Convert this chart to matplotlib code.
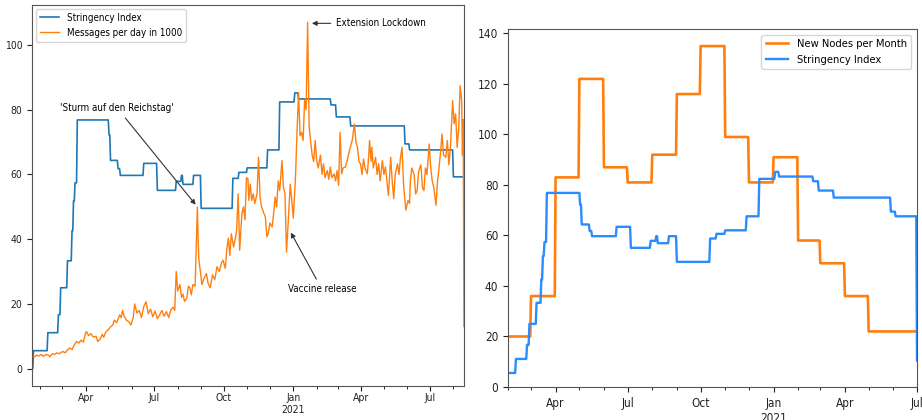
import numpy as np
import pandas as pd
import matplotlib
matplotlib.use('Agg')
import matplotlib.pyplot as plt
import matplotlib.dates as mdates

plt.rcParams['font.stretch'] = 'condensed'

# --- data -----------------------------------------------------------------
start = pd.Timestamp('2020-01-21')

# stringency index: value valid from the given date on
si_dates = ['2020-01-21', '2020-01-23', '2020-02-11', '2020-02-25', '2020-02-28',
            '2020-03-08', '2020-03-14', '2020-03-16', '2020-03-18', '2020-03-21',
            '2020-05-02', '2020-05-04', '2020-05-14', '2020-05-17', '2020-06-17',
            '2020-07-05', '2020-07-30', '2020-08-06', '2020-08-08', '2020-08-22',
            '2020-09-01', '2020-10-13', '2020-10-21', '2020-11-01', '2020-11-28',
            '2020-12-14', '2021-01-03', '2021-01-08', '2021-02-20', '2021-02-27',
            '2021-03-18', '2021-05-29', '2021-06-04', '2021-08-01']
si_vals = [0, 5.56, 11.11, 16.67, 25.0,
           33.33, 42.59, 51.85, 57.41, 76.85,
           72.22, 64.35, 61.8, 59.72, 63.43,
           55.09, 57.87, 59.72, 56.94, 59.72,
           49.54, 58.8, 60.65, 62.04, 67.59,
           82.41, 85.19, 83.33, 81.48, 77.78,
           75.0, 69.44, 67.59, 59.26]
si_right_last = 10.5

# messages per day in 1000 (days after 2020-01-21)
msg_days = [0, 3, 6, 9, 12, 15, 18, 21, 24, 27, 30, 33, 36, 39, 41, 44, 47, 50, 53, 56,
            59, 62, 65, 68, 71, 72, 75, 78, 81, 85, 87, 90, 93, 95, 98, 101, 104, 107, 109, 112,
            114, 116, 118, 120, 122, 125, 128, 131, 134, 136, 139, 142, 145, 148, 151, 154, 157, 160, 163, 166,
            169, 172, 175, 178, 181, 184, 187, 189, 191, 193, 196, 198, 200, 202, 205, 207, 209, 211, 213, 216,
            219, 220, 221, 223, 225, 228, 231, 233, 236, 239, 242, 245, 248, 251, 253, 256, 258, 260, 262, 264,
            267, 269, 271, 273, 275, 278, 280, 282, 284, 286, 287, 289, 291, 293, 295, 298, 300, 302, 304, 307,
            309, 311, 313, 315, 318, 320, 322, 324, 326, 328, 331, 333, 335, 337, 339, 342, 344, 346, 349, 351,
            353, 355, 357, 359, 361, 363, 365, 367, 369, 371, 373, 375, 377, 379, 382, 384, 386, 388, 391, 393,
            395, 397, 400, 402, 404, 406, 408, 410, 412, 415, 417, 419, 421, 424, 427, 429, 431, 433, 435, 437,
            439, 441, 444, 446, 447, 449, 450, 452, 455, 457, 459, 461, 464, 466, 468, 470, 472, 475, 477, 479,
            481, 484, 486, 488, 490, 492, 495, 498, 500, 501, 503, 506, 508, 510, 512, 515, 517, 519, 521, 523,
            526, 528, 530, 532, 535, 537, 539, 541, 543, 545, 548, 550, 552, 554, 557, 559, 561, 563, 565, 567,
            569, 570, 571, 572]
msg_vals = [4.0, 3.6, 4.2, 3.9, 4.4, 3.8, 4.3, 4.3, 3.7, 4.6, 4.4, 4.9, 4.6, 5.1, 5.3, 4.9, 5.8, 6.4, 5.9, 7.3,
            8.4, 7.9, 8.8, 8.2, 11.0, 11.5, 10.2, 10.8, 9.8, 10.0, 8.4, 9.0, 10.6, 9.7, 11.5, 12.0, 12.9, 13.5, 15.0, 14.2,
            15.4, 16.6, 15.8, 18.0, 16.2, 15.0, 14.6, 13.5, 15.8, 20.0, 17.2, 18.0, 15.8, 19.2, 20.7, 17.0, 18.4, 16.0, 17.8, 15.5,
            16.6, 18.0, 16.2, 17.6, 15.8, 18.2, 19.0, 18.0, 30.0, 24.0, 26.0, 22.0, 23.0, 20.8, 21.7, 25.5, 25.0, 22.8, 26.0, 25.5,
            50.0, 40.0, 33.5, 30.0, 26.0, 28.0, 29.4, 26.5, 25.0, 29.0, 27.5, 31.5, 30.0, 32.8, 33.5, 31.0, 37.0, 40.3, 35.0, 41.7,
            37.6, 40.0, 42.8, 54.0, 36.6, 48.0, 50.0, 46.0, 59.0, 58.7, 52.0, 57.0, 52.0, 54.0, 51.0, 54.0, 65.3, 53.0, 50.0, 48.0,
            47.0, 40.7, 42.0, 45.0, 43.8, 48.0, 53.0, 50.0, 58.0, 55.0, 64.3, 56.0, 54.0, 36.0, 44.0, 57.0, 52.0, 46.5, 59.7, 73.5,
            85.3, 72.0, 73.0, 70.5, 83.0, 80.0, 107.0, 75.0, 70.0, 66.0, 64.0, 70.5, 64.3, 62.0, 66.0, 60.0, 63.3, 59.0, 61.2, 58.5,
            62.3, 59.0, 60.2, 58.0, 61.2, 56.6, 73.0, 60.2, 62.0, 62.3, 64.0, 66.0, 68.0, 70.5, 75.6, 70.0, 68.4, 64.0, 63.3, 60.0,
            64.8, 62.0, 60.2, 66.0, 70.5, 64.0, 68.4, 62.0, 65.3, 60.0, 63.3, 58.0, 64.3, 60.0, 62.3, 58.0, 53.5, 65.3, 58.0, 52.5,
            60.0, 63.3, 60.0, 65.3, 68.4, 57.0, 49.0, 52.0, 51.0, 58.0, 62.0, 60.0, 54.0, 55.0, 61.0, 63.0, 56.0, 55.0, 62.0, 60.0,
            69.4, 62.0, 58.0, 56.0, 50.5, 58.0, 62.0, 67.0, 72.5, 66.0, 65.3, 70.5, 63.0, 68.0, 82.8, 75.6, 78.7, 68.4, 74.0, 87.4,
            82.8, 66.0, 77.0, 13.0]

# new nodes per month (Feb 2020 .. Jul 2021)
node_start = '2020-02-01'
node_vals = [20, 36, 83, 122, 87, 81, 92, 116, 135, 99, 81, 91, 58, 49, 36, 22, 22, 22]

# --- series ---------------------------------------------------------------
end_left = start + pd.Timedelta(days=msg_days[-1])
si = pd.Series(si_vals, index=pd.to_datetime(si_dates))
si_left = si.reindex(pd.date_range(start, end_left, freq='D'), method='ffill')
msg = pd.Series(msg_vals, index=start + pd.to_timedelta(msg_days, unit='D'))

nodes = pd.Series(node_vals, index=pd.date_range(node_start, periods=len(node_vals), freq='MS'))
right_range = pd.date_range(node_start, nodes.index[-1], freq='D')
nodes_d = nodes.reindex(right_range, method='ffill')
si_right = si.reindex(right_range, method='ffill')
si_right.iloc[-1] = si_right_last


def fmt_date(x, pos=None):
    d = mdates.num2date(x)
    s = d.strftime('%b')
    if d.month == 1:
        s += '\n' + str(d.year)
    return s


def style_dates(ax, fs, pad=3.5):
    ax.xaxis.set_major_locator(mdates.MonthLocator(bymonth=[1, 4, 7, 10]))
    ax.xaxis.set_minor_locator(mdates.MonthLocator())
    ax.xaxis.set_major_formatter(plt.FuncFormatter(fmt_date))
    ax.tick_params(labelsize=fs, length=3.5, width=0.8, colors='#222222')
    ax.tick_params(axis='x', pad=pad)
    ax.tick_params(which='minor', length=2, width=0.6)
    for sp in ax.spines.values():
        sp.set_color('#555555')


fig = plt.figure(figsize=(9.22, 4.2), dpi=100)

# --- left panel -----------------------------------------------------------
ax1 = fig.add_axes([0.0347, 0.081, 0.4685, 0.907])
ax1.plot(si_left.index, si_left.values, color='#1f77b4', lw=1.2, label='Stringency Index')
ax1.plot(msg.index, msg.values, color='#ff7f0e', lw=1.0, label='Messages per day in 1000')
ax1.set_xlim(start, end_left)
ax1.set_ylim(-5.35, 112.35)
ax1.set_yticks([0, 20, 40, 60, 80, 100])
style_dates(ax1, 7.5, pad=1.5)
ax1.legend(loc='upper left', fontsize=7, borderaxespad=0.4, handlelength=2.0)

def dn(days):
    return mdates.date2num(start + pd.Timedelta(days=days))

arrow = dict(arrowstyle='-|>', color='#333333', lw=0.8, mutation_scale=7)
ax1.annotate("'Sturm auf den Reichstag'", xy=(dn(219), 50.0), xytext=(dn(113), 80.5),
             ha='center', va='center', fontsize=7, arrowprops=arrow)
ax1.annotate('Vaccine release', xy=(dn(341), 42.8), xytext=(dn(384), 24.5),
             ha='center', va='center', fontsize=7, arrowprops=arrow)
ax1.annotate('Extension Lockdown', xy=(dn(367), 106.7), xytext=(dn(403), 106.7),
             ha='left', va='center', fontsize=7, arrowprops=arrow)

# --- right panel ----------------------------------------------------------
ax2 = fig.add_axes([0.551, 0.0786, 0.4436, 0.852])
ax2.plot(nodes_d.index, nodes_d.values, color='#ff7f0e', lw=1.9, label='New Nodes per Month')
ax2.plot(si_right.index, si_right.values, color='#2b8cff', lw=1.7, label='Stringency Index')
ax2.set_xlim(right_range[0], right_range[-1])
ax2.set_ylim(0, 141.7)
ax2.set_yticks(np.arange(0, 141, 20))
style_dates(ax2, 8.5)
ax2.legend(loc='upper right', fontsize=8, borderaxespad=0.5, handlelength=2.0)

plt.savefig('out.png', dpi=100)
